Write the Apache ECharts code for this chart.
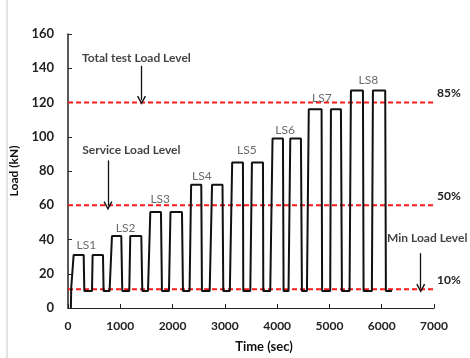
<!DOCTYPE html>
<html><head><meta charset="utf-8">
<script src="https://cdn.jsdelivr.net/npm/echarts@6/dist/echarts.min.js"></script>
<style>html,body{margin:0;padding:0;background:#fff}#c{width:470px;height:358px}</style>
</head><body><div id="c"></div>
<script>
// Load history: [time (sec), load (kN)]
const loadHistory = [
  [55,0],[62,12],[108,31],[300,31],[312,10],[459,10],[471,31],[669,31],[681,10],[795,10],
  [841,42],[1019,42],[1038,10],[1172,10],[1191,42],[1402,42],[1421,10],[1530,10],
  [1574,56],[1778,56],[1797,10],[1931,10],[1960,56],[2180,56],[2199,10],[2325,10],
  [2355,72],[2549,72],[2562,10],[2710,10],[2755,72],[2955,72],[2970,10],[3095,10],
  [3140,85],[3346,85],[3352,10],[3486,10],[3518,85],[3729,85],[3735,10],[3868,10],
  [3912,99],[4111,99],[4123,10],[4218,10],[4251,99],[4455,99],[4474,10],[4570,10],
  [4605,116],[4850,116],[4860,10],[5015,10],[5029,116],[5220,116],[5239,10],[5385,10],
  [5411,127],[5641,127],[5653,10],[5812,10],[5832,127],[6067,127],[6080,10],[6195,10]
];
// Reference levels
const levelValues = [120, 60, 11];
const levelLabels = ['85%', '50%', '10%'];
const levelEndTime = 7150;
// Stage labels
const stageNames = ['LS1','LS2','LS3','LS4','LS5','LS6','LS7','LS8'];
const stageLabelTimes = [351, 1101, 1764, 2560, 3421, 4153, 4854, 5744];
const stageLabelLoads = [36.5, 46.4, 63.3, 76.8, 92, 104, 122.8, 133];
// Annotation texts and arrows
const noteTexts = ['Total test Load Level', 'Service Load Level', 'Min Load Level'];
const noteTimes = [268, 273, 6102];
const noteLoads = [146, 92, 40.6];
const arrowTimes = [1406, 764, 6746];
const arrowFrom = [141.4, 86.2, 32];
const arrowTo = [121.3, 59.7, 11.5];
// Axes
const xTicks = [0,1000,2000,3000,4000,5000,6000,7000];
const yTicks = [0,20,40,60,80,100,120,140,160];

const FONT = 'Lato, "Open Sans", sans-serif';
const chevron = 'path://M5,0 L10,9 L8.6,9.8 L5,3 L1.4,9.8 L0,9 Z';

const series = [];
levelValues.forEach((v, i) => {
  series.push({
    type: 'line', silent: true, clip: false, symbol: 'none',
    data: [[0, v], [levelEndTime, v]],
    lineStyle: { color: '#ff1a1a', width: 2, type: [5, 3] },
    endLabel: { show: true, formatter: levelLabels[i], fontFamily: FONT, fontWeight: 'bold',
      fontSize: 12, color: '#222', offset: [-6, -9] },
    z: 1
  });
});
series.push({
  type: 'line', symbol: 'none', data: loadHistory,
  lineStyle: { color: '#111', width: 2 }, z: 3,
  markLine: {
    silent: true, symbol: ['none', chevron], symbolSize: [9, 9],
    lineStyle: { color: '#111', width: 1.3, type: 'solid' },
    label: { show: false },
    data: arrowTimes.map((t, i) => [{ coord: [t, arrowFrom[i]] }, { coord: [t, arrowTo[i]] }])
  }
});
series.push({
  type: 'scatter', symbolSize: 0, silent: true, clip: false,
  data: stageNames.map((n, i) => ({ value: [stageLabelTimes[i], stageLabelLoads[i]], name: n })),
  label: { show: true, position: 'inside', formatter: '{b}', fontFamily: FONT, fontSize: 12,
    color: '#444' }
});
series.push({
  type: 'scatter', symbolSize: 0, silent: true, clip: false,
  data: noteTexts.map((n, i) => ({ value: [noteTimes[i], noteLoads[i]], name: n })),
  label: { show: true, position: 'right', distance: 0, formatter: '{b}', fontFamily: FONT,
    fontSize: 12, fontWeight: 'bold', color: '#111' }
});

const chart = echarts.init(document.getElementById('c'), null, { renderer: 'canvas' });
chart.setOption({
  animation: false,
  backgroundColor: '#fff',
  grid: { left: 68, right: 36, top: 34, bottom: 46 },
  xAxis: {
    type: 'value', min: xTicks[0], max: xTicks[xTicks.length - 1], interval: 1000,
    name: 'Time (sec)', nameLocation: 'middle', nameGap: 32,
    nameTextStyle: { fontFamily: FONT, fontWeight: 'bold', fontSize: 13, color: '#111', padding: [0, 0, 0, 26] },
    axisLine: { lineStyle: { color: '#222', width: 1.2 } },
    axisTick: { inside: true, length: 4, lineStyle: { color: '#222' } },
    axisLabel: { fontFamily: FONT, fontWeight: 'bold', fontSize: 12, color: '#222', margin: 12,
      formatter: v => String(v) },
    splitLine: { show: false }
  },
  yAxis: {
    type: 'value', min: yTicks[0], max: yTicks[yTicks.length - 1], interval: 20,
    name: 'Load (kN)', nameLocation: 'middle', nameGap: 45,
    nameTextStyle: { fontFamily: FONT, fontWeight: 'bold', fontSize: 12, color: '#111' },
    axisLine: { show: true, lineStyle: { color: '#222', width: 1.5 } },
    axisTick: { show: true, inside: true, length: 4, lineStyle: { color: '#222' } },
    axisLabel: { fontFamily: FONT, fontWeight: 'bold', fontSize: 13, color: '#222', margin: 14,
      formatter: v => String(v) },
    splitLine: { show: false }
  },
  graphic: [{ type: 'line', shape: { x1: 7, y1: 0, x2: 7, y2: 358 }, style: { stroke: '#c8c8c8', lineWidth: 1 } }],
  series
});
</script></body></html>
